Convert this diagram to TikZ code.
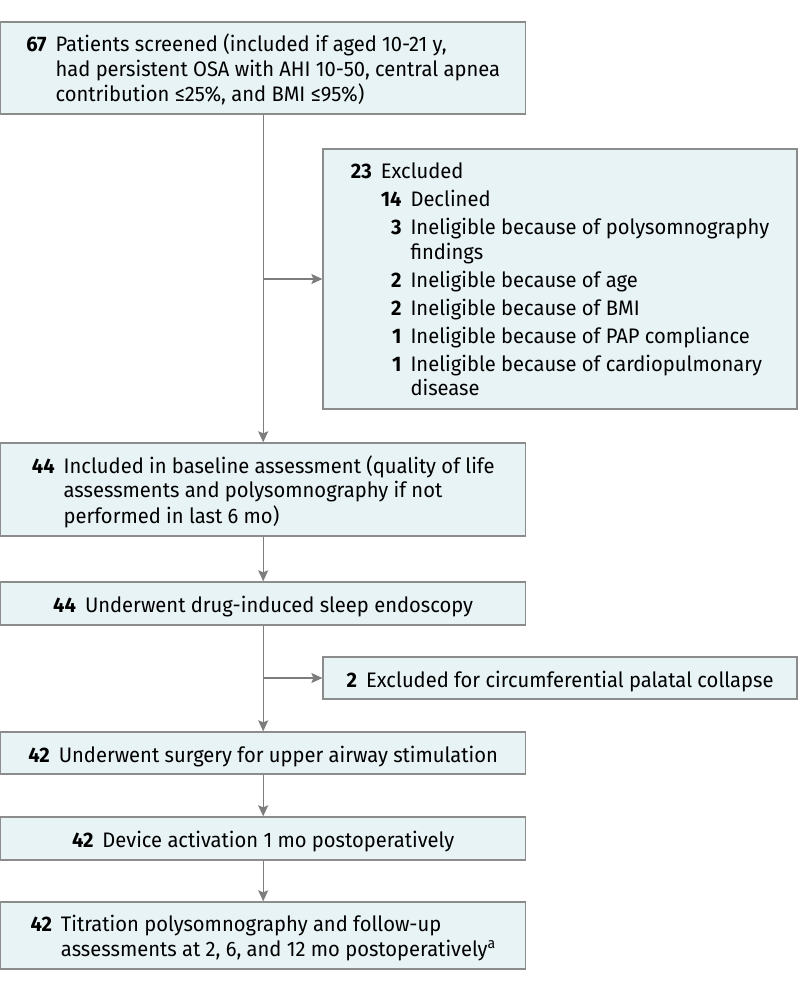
\documentclass[tikz,border=0pt]{standalone}
\usepackage{fontspec}
\setmainfont{Fira Sans}[FakeStretch=0.96]
\usetikzlibrary{arrows.meta}
\definecolor{boxfill}{RGB}{232,243,245}
\definecolor{boxline}{RGB}{140,140,140}
\definecolor{arrowgray}{RGB}{125,125,125}
\tikzset{>={Stealth[length=11pt,width=10pt,inset=2pt]}}
\tikzset{flowbox/.style={draw=boxline, line width=1.4pt, fill=boxfill, rectangle, inner sep=0pt, align=center, font=\fontsize{21}{24.5}\selectfont}}
\tikzset{flowline/.style={draw=arrowgray, line width=1.3pt}}
\newcommand{\nb}[1]{\textbf{#1}}
\newcommand{\gap}{@{\hspace{9pt}}}
\newcommand{\sinkbox}[1]{\raisebox{-3.5pt}[\height][\depth]{#1}}

\begin{document}
\begin{tikzpicture}[x=1pt, y=-1pt]
\useasboundingbox (0,0) rectangle (798,991);
\node[flowbox, minimum width=525pt, minimum height=92pt] (screen) at (263.2,68) {\sinkbox{\begin{tabular}{@{}r\gap l@{}}
\nb{67} & Patients screened (included if aged 10-21 y,\\
 & had persistent OSA with AHI 10-50, central apnea\\
 & contribution ≤25\%, and BMI ≤95\%)
\end{tabular}}};
\node[flowbox, minimum width=474pt, minimum height=260pt] (excl) at (560.1,279) {\sinkbox{\begin{tabular}{@{}r\gap r\gap l@{}}
\nb{23} & \multicolumn{2}{@{}l@{}}{Excluded}\\[3.5pt]
 & \nb{14} & Declined\\[3.5pt]
 & \nb{3} & Ineligible because of polysomnography\\
 & & findings\\[3.5pt]
 & \nb{2} & Ineligible because of age\\[3.5pt]
 & \nb{2} & Ineligible because of BMI\\[3.5pt]
 & \nb{1} & Ineligible because of PAP compliance\\[3.5pt]
 & \nb{1} & Ineligible because of cardiopulmonary\\
 & & disease
\end{tabular}}};
\node[flowbox, minimum width=525pt, minimum height=93pt] (base) at (263.2,489.5) {\sinkbox{\begin{tabular}{@{}r\gap l@{}}
\nb{44} & Included in baseline assessment (quality of life\\
 & assessments and polysomnography if not\\
 & performed in last 6 mo)
\end{tabular}}};
\node[flowbox, minimum width=525pt, minimum height=43pt] (dise) at (263.2,603.5) {\sinkbox{\nb{44}\hspace{9pt}Underwent drug-induced sleep endoscopy}};
\node[flowbox, minimum width=474pt, minimum height=42pt] (excl2) at (560.1,678) {\sinkbox{\nb{2}\hspace{9pt}Excluded for circumferential palatal collapse}};
\node[flowbox, minimum width=525pt, minimum height=42pt] (surg) at (263.2,753) {\sinkbox{\nb{42}\hspace{9pt}Underwent surgery for upper airway stimulation}};
\node[flowbox, minimum width=525pt, minimum height=43pt] (dev) at (263.2,838.5) {\sinkbox{\nb{42}\hspace{9pt}Device activation 1 mo postoperatively}};
\node[flowbox, minimum width=525pt, minimum height=67pt] (titr) at (263.2,935.5) {\sinkbox{\begin{tabular}{@{}r\gap l@{}}
\nb{42} & Titration polysomnography and follow-up\\
 & assessments at 2, 6, and 12 mo postoperatively\textsuperscript{a}
\end{tabular}}};
% connectors
\draw[flowline, ->] (screen.south) -- (base.north);
\draw[flowline, ->] (excl.west -| screen.south) -- (excl.west);
\draw[flowline, ->] (base.south) -- (dise.north);
\draw[flowline, ->] (dise.south) -- (surg.north);
\draw[flowline, ->] (excl2.west -| dise.south) -- (excl2.west);
\draw[flowline, ->] (surg.south) -- (dev.north);
\draw[flowline, ->] (dev.south) -- (titr.north);
\end{tikzpicture}
\end{document}
